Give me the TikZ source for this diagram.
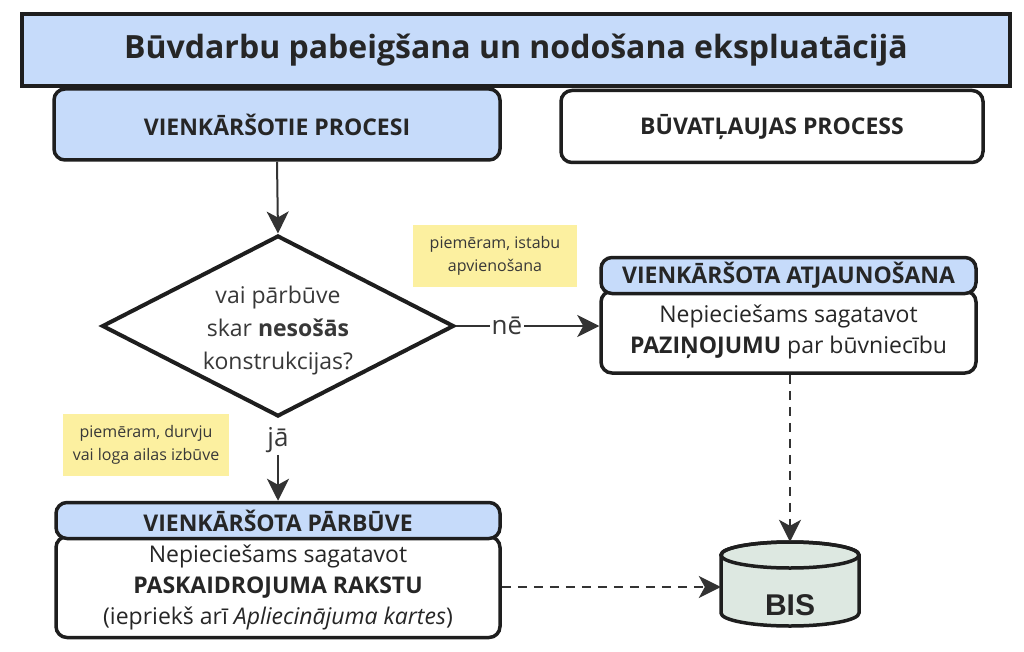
\documentclass[tikz,border=0pt]{standalone}
\usepackage{fontspec}
\setmainfont{Open Sans}
\newfontfamily\bisfont{Liberation Sans}
\usetikzlibrary{arrows.meta,shapes.geometric}
\definecolor{boxblue}{HTML}{C6DBFA}
\definecolor{edge}{HTML}{1E1E1E}
\definecolor{ink}{HTML}{262626}
\definecolor{soft}{HTML}{383838}
\definecolor{notey}{HTML}{FCF0A0}
\definecolor{bisfill}{HTML}{DDE8E1}
\definecolor{arrowc}{HTML}{333333}
\tikzset{
  rbox/.style={draw=edge, line width=3.5pt, rounded corners=11pt, inner sep=0pt, text=ink, align=center},
  hdr/.style={rbox, fill=boxblue, font=\fontsize{23}{27}\selectfont\bfseries},
  body/.style={rbox, fill=white, font=\fontsize{23}{31}\selectfont},
  notebox/.style={fill=notey, inner sep=0pt, align=center, text=soft, font=\fontsize{16}{23}\selectfont},
  arr/.style={draw=arrowc, line width=2pt, -{Stealth[length=22pt,width=22pt,inset=6pt]}},
  darr/.style={arr, dash pattern=on 9pt off 7pt},
  lbl/.style={text=soft, font=\fontsize{26}{30}\selectfont, inner sep=2pt}
}
\begin{document}
\begin{tikzpicture}[x=1pt,y=-1pt]
\useasboundingbox (0,0) rectangle (1024,652);
\fill[white] (0,0) rectangle (1024,652);

% title
\node[draw=edge, line width=4pt, fill=boxblue, minimum width=988, minimum height=72, inner sep=0pt,
      text=ink, font=\fontsize{32}{38}\selectfont\bfseries] (title) at (516,50) {Būvdarbu pabeigšana un nodošana ekspluatācijā};

% top boxes
\node[hdr, minimum width=446, minimum height=71] (vp) at (277,124.5) {VIENKĀRŠOTIE PROCESI};
\node[rbox, fill=white, font=\fontsize{23}{27}\selectfont\bfseries, minimum width=422, minimum height=72] (bp) at (772,126.5) {BŪVATĻAUJAS PROCESS};

% decision diamond
\node[diamond, draw=edge, line width=4pt, fill=white, minimum width=352, minimum height=181, inner sep=0pt] (dec) at (278,326) {};
\node[text=soft, align=center, font=\fontsize{23}{33}\selectfont] (dect) at (278,331) {vai pārbūve\\skar \textbf{nesošās}\\konstrukcijas?};

% notes
\node[notebox, minimum width=164, minimum height=62] (n1) at (495,256) {piemēram, istabu\\apvienošana};
\node[notebox, minimum width=166, minimum height=62] (n2) at (146,445) {piemēram, durvju\\vai loga ailas izbūve};

% right branch
\node[body, minimum width=375, minimum height=82] (rb) at (788.5,332) {Nepieciešams sagatavot\\\textbf{PAZIŅOJUMU} par būvniecību};
\node[hdr, minimum width=375, minimum height=36] (rh) at (788.5,275.5) {VIENKĀRŠOTA ATJAUNOŠANA};

% left branch
\node[body, minimum width=444, minimum height=101] (lb) at (278,587) {Nepieciešams sagatavot\\\textbf{PASKAIDROJUMA RAKSTU}\\(iepriekš arī \textit{Apliecinājuma kartes})};
\node[hdr, minimum width=444, minimum height=36] (lh) at (278,520.5) {VIENKĀRŠOTA PĀRBŪVE};

% BIS cylinder
\node[minimum width=138, minimum height=86, inner sep=0pt] (bis) at (790,585) {};
\filldraw[draw=edge, fill=bisfill, line width=3.5pt]
  (721,555) -- (721,613) arc[start angle=180, end angle=360, x radius=69pt, y radius=13pt]
  -- (859,555) arc[start angle=0, end angle=180, x radius=69pt, y radius=13pt] -- cycle;
\draw[draw=edge, line width=3.5pt] (790,555) ellipse[x radius=69pt, y radius=13pt];
\node[text=ink, font=\fontsize{30}{34}\selectfont\bisfont\bfseries] (bist) at (790,605) {BIS};

% connectors
\draw[arr] (vp.south) -- (dec.north);
\node[lbl] (ne) at (507,326) {nē};
\draw[draw=arrowc, line width=2pt] (dec.east) -- (ne.west);
\draw[arr] (ne.east) -- (rb.west |- ne.east);
\node[lbl] (ja) at (278,440) {jā};
\draw[arr] (ja.south) -- (lh.north);
\draw[darr] (rb.south -| bis.north) -- (bis.north);
\draw[darr] (lb.east) -- (bis.west |- lb.east);
\end{tikzpicture}
\end{document}
